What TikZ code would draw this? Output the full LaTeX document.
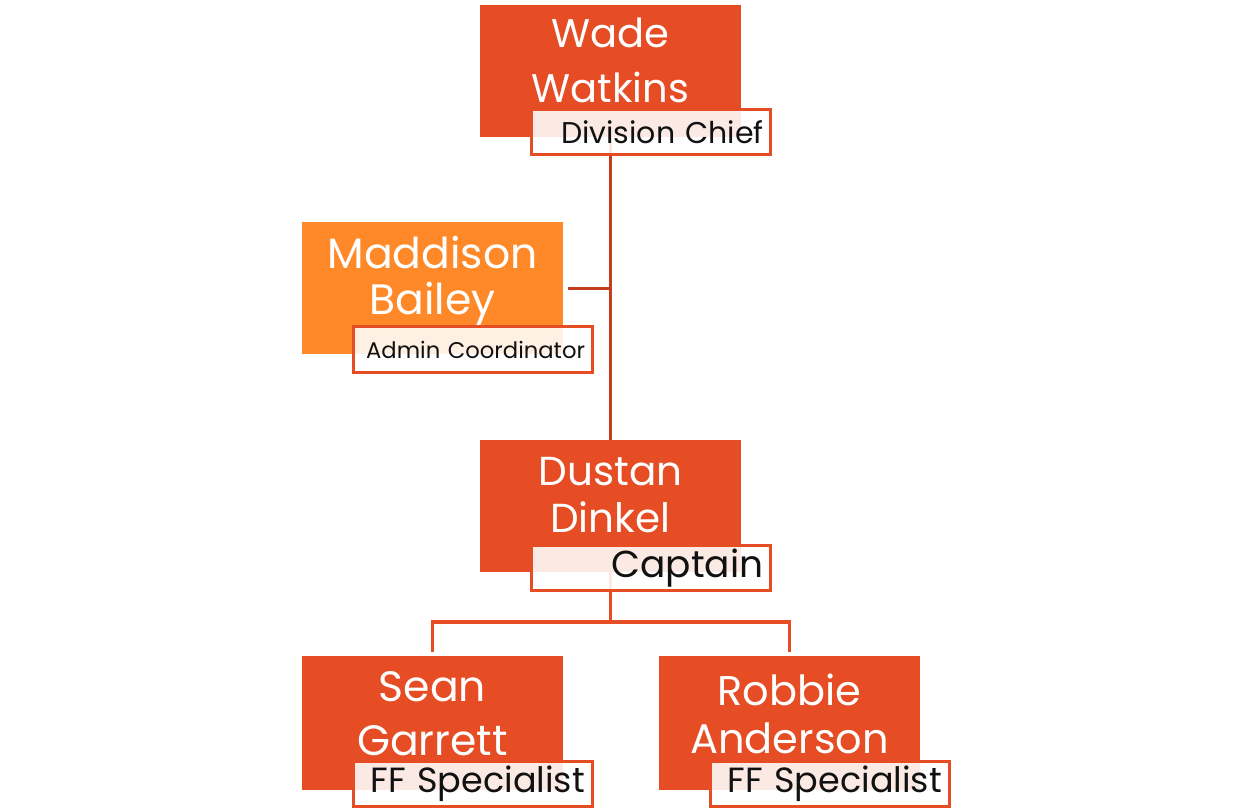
\documentclass[tikz,border=0pt]{standalone}
\usepackage{fontspec}
\setmainfont{Poppins}
\definecolor{boxorange}{HTML}{E64D24}
\definecolor{lightorange}{HTML}{FF8828}
\definecolor{topline}{HTML}{C43E1E}
\definecolor{labeltext}{HTML}{111111}
\tikzset{
  person/.style={draw=none, fill=boxorange, minimum width=261pt, minimum height=132pt, inner sep=0pt},
  namefont/.style={text=white, align=center, inner sep=0pt},
  rolebox/.style={draw=boxorange, line width=3pt, fill=white, fill opacity=0.88, text opacity=1,
    minimum width=239pt, minimum height=45pt, inner sep=0pt, text width=225pt, align=right, text=labeltext},
  connA/.style={draw=topline, line width=3.5pt},
  connB/.style={draw=boxorange, line width=3.5pt},
}
\begin{document}
\begin{tikzpicture}[x=1pt,y=-1pt]
\useasboundingbox (0,0) rectangle (1248,810);
% boxes
\node[person] (wade) at (610.5,71) {};
\node[person, fill=lightorange] (mad) at (432.5,288.5) {};
\node[person] (dustan) at (610.5,506) {};
\node[person, minimum height=134pt] (sean) at (432.5,723) {};
\node[person, minimum height=134pt] (robbie) at (789.5,723) {};
% connectors
\coordinate (bus) at (610.5,622);
\draw[connA] (wade.south) -- (dustan.north);
\draw[connA] ([xshift=5pt]mad.east) -- (mad.east -| wade.south);
\draw[connB] (dustan.south) -- (bus);
\draw[connB] ([yshift=4pt]sean.north) -- (sean.north |- bus) -- (robbie.north |- bus) -- ([yshift=4pt]robbie.north);
% names
\node[namefont, font=\fontsize{40}{55}\selectfont] (wadeT) at (610.5,60) {Wade\\Watkins};
\node[namefont, font=\fontsize{42.5}{46}\selectfont] (madT) at (432.5,281) {Maddison\\Bailey};
\node[namefont, font=\fontsize{40.5}{47}\selectfont] (dustanT) at (610.5,495) {Dustan\\Dinkel};
\node[namefont, font=\fontsize{42.5}{54}\selectfont] (seanT) at (432.5,714) {Sean\\Garrett};
\node[namefont, font=\fontsize{41.5}{48}\selectfont] (robbieT) at (789.5,714) {Robbie\\Anderson};
% role labels
\node[rolebox, font=\fontsize{30}{32}\selectfont] (wadeR) at (651,132) {Division Chief};
\node[rolebox, font=\fontsize{22.7}{25}\selectfont] (madR) at (472.5,349.5) {Admin Coordinator};
\node[rolebox, font=\fontsize{37.5}{39}\selectfont] (dustanR) at (651,568) {Captain};
\node[rolebox, font=\fontsize{35}{37}\selectfont] (seanR) at (472.5,784) {FF Specialist};
\node[rolebox, font=\fontsize{35}{37}\selectfont] (robbieR) at (829.5,784) {FF Specialist};
\end{tikzpicture}
\end{document}
